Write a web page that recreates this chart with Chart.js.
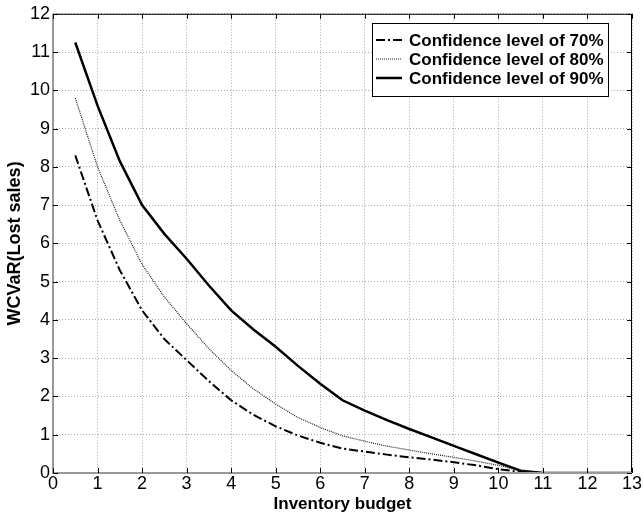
<!DOCTYPE html>
<html lang="en">
<head>
    <meta charset="UTF-8">
    <title>WCVaR vs inventory budget</title>
    <style>
        body { margin: 0; background: #fff; }
        .chart-container { position: relative; width: 644px; height: 517px; }
    </style>
</head>
<body>
    <div class="chart-container">
        <canvas class="wcvar-chart"></canvas>
    </div>

    <script src="https://cdn.jsdelivr.net/npm/chart.js@4/dist/chart.umd.min.js"></script>
    <script>
        // Datos
        const budget = [0.5, 1, 1.5, 2, 2.5, 3, 3.5, 4, 4.5, 5, 5.5, 6, 6.5, 7, 7.5, 8, 8.5, 9, 9.5, 10, 10.5, 11, 11.5, 12, 12.5, 13];
        const conf70 = [8.3, 6.6, 5.3, 4.25, 3.5, 2.95, 2.4, 1.9, 1.52, 1.22, 0.98, 0.79, 0.64, 0.56, 0.48, 0.41, 0.35, 0.28, 0.2, 0.1, 0.03, 0, 0, 0, 0, 0];
        const conf80 = [9.8, 8.0, 6.6, 5.45, 4.6, 3.9, 3.25, 2.68, 2.2, 1.8, 1.45, 1.19, 0.97, 0.83, 0.7, 0.6, 0.5, 0.41, 0.31, 0.2, 0.06, 0, 0, 0, 0, 0];
        const conf90 = [11.25, 9.6, 8.15, 7.0, 6.25, 5.6, 4.9, 4.25, 3.75, 3.3, 2.8, 2.33, 1.9, 1.63, 1.38, 1.15, 0.93, 0.71, 0.49, 0.27, 0.06, 0, 0, 0, 0, 0];
        const seriesLabels = ['Confidence level of 70%', 'Confidence level of 80%', 'Confidence level of 90%'];

        const toPoints = ys => ys.map((y, i) => ({ x: budget[i], y: y }));
        const FONT = '"Liberation Sans", Arial, sans-serif';

        const styles = [
            { color: '#000', width: 2, dash: [9, 3, 2, 3] },
            { color: '#222', width: 1.2, dash: [1, 1] },
            { color: '#000', width: 2.5, dash: [] }
        ];

        // Marco completo, marcas interiores y leyenda dentro del área
        const framePlugin = {
            id: 'frame',
            afterDraw(chart) {
                const { ctx, chartArea: a, scales } = chart;
                ctx.save();
                ctx.strokeStyle = '#000';
                ctx.lineWidth = 1;
                ctx.strokeRect(a.left + 0.5, a.top + 0.5, a.right - a.left - 1, a.bottom - a.top - 1);
                ctx.strokeStyle = '#999';
                ctx.lineWidth = 2;
                ctx.beginPath();
                ctx.moveTo(a.left, a.top); ctx.lineTo(a.left, a.bottom); ctx.lineTo(a.right, a.bottom);
                ctx.stroke();

                // marcas
                ctx.strokeStyle = '#000';
                ctx.lineWidth = 1;
                ctx.beginPath();
                for (let v = 0; v <= 13; v++) {
                    const px = Math.round(scales.x.getPixelForValue(v)) + 0.5;
                    ctx.moveTo(px, a.bottom); ctx.lineTo(px, a.bottom - 5);
                    ctx.moveTo(px, a.top); ctx.lineTo(px, a.top + 5);
                }
                for (let v = 0; v <= 12; v++) {
                    const py = Math.round(scales.y.getPixelForValue(v)) + 0.5;
                    ctx.moveTo(a.left, py); ctx.lineTo(a.left + 5, py);
                    ctx.moveTo(a.right, py); ctx.lineTo(a.right - 5, py);
                }
                ctx.stroke();

                // leyenda
                const bx = 372, by = 23, bw = 236, bh = 73;
                ctx.fillStyle = '#fff';
                ctx.fillRect(bx, by, bw, bh);
                ctx.strokeStyle = '#000';
                ctx.lineWidth = 1;
                ctx.strokeRect(bx + 0.5, by + 0.5, bw, bh);
                ctx.font = 'bold 17px ' + FONT;
                ctx.textBaseline = 'middle';
                seriesLabels.forEach((label, i) => {
                    const y = by + 17 + i * 19;
                    const s = styles[i];
                    ctx.strokeStyle = s.color;
                    ctx.lineWidth = s.width;
                    ctx.setLineDash(s.dash);
                    ctx.beginPath();
                    ctx.moveTo(bx + 4, y); ctx.lineTo(bx + 30, y);
                    ctx.stroke();
                    ctx.setLineDash([]);
                    ctx.fillStyle = '#000';
                    ctx.fillText(label, bx + 37, y + 1);
                });
                ctx.restore();
            }
        };

        const ctx = document.querySelector('.wcvar-chart').getContext('2d');
        const chart = new Chart(ctx, {
            type: 'line',
            data: {
                datasets: [conf70, conf80, conf90].map((d, i) => ({
                    label: seriesLabels[i],
                    data: toPoints(d),
                    borderColor: styles[i].color,
                    borderWidth: styles[i].width,
                    borderDash: styles[i].dash,
                    pointRadius: 0,
                    fill: false,
                    tension: 0
                }))
            },
            options: {
                responsive: true,
                maintainAspectRatio: false,
                animation: false,
                layout: { padding: { top: 13, right: 12, left: 0, bottom: 0 } },
                plugins: {
                    legend: { display: false },
                    tooltip: { enabled: false }
                },
                scales: {
                    x: {
                        type: 'linear',
                        min: 0, max: 13,
                        afterFit: s => { s.height = 44; },
                        ticks: {
                            stepSize: 1,
                            color: '#000',
                            padding: 0,
                            font: { family: FONT, size: 18 }
                        },
                        grid: {
                            color: '#aaa',
                            drawTicks: false
                        },
                        border: { display: false, dash: [1, 2] },
                        title: {
                            display: true,
                            text: 'Inventory budget',
                            color: '#000',
                            padding: { top: 0, bottom: 2 },
                            font: { family: FONT, size: 17, weight: 'bold' }
                        }
                    },
                    y: {
                        min: 0, max: 12,
                        afterFit: s => { s.width = 53; },
                        ticks: {
                            stepSize: 1,
                            color: '#000',
                            padding: 3,
                            font: { family: FONT, size: 18 }
                        },
                        grid: {
                            color: '#aaa',
                            drawTicks: false
                        },
                        border: { display: false, dash: [1, 2] },
                        title: {
                            display: true,
                            text: 'WCVaR(Lost sales)',
                            color: '#000',
                            padding: { top: 4, bottom: 0 },
                            font: { family: FONT, size: 18, weight: 'bold' }
                        }
                    }
                }
            },
            plugins: [framePlugin]
        });
    </script>
</body>
</html>
